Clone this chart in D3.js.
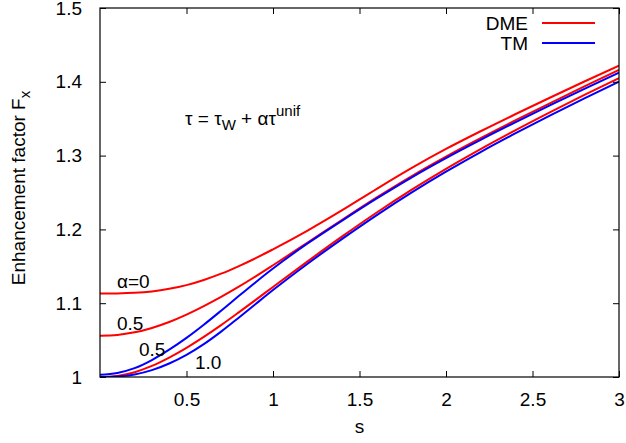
<!DOCTYPE html>
<html><head><meta charset="utf-8">
<script src="https://cdn.jsdelivr.net/npm/d3@7"></script>
<style>body{margin:0;background:#fff}svg{display:block}text{font-family:"Liberation Sans",Arial,Helvetica,sans-serif;fill:#000}</style>
</head><body><svg id="c" width="626" height="443"></svg>
<script>
const sValues = [0,0.1,0.2,0.3,0.4,0.5,0.6,0.7,0.8,0.9,1.0,1.2,1.4,1.6,1.8,2.0,2.2,2.4,2.6,2.8,3.0];
const dmeAlpha0  = [1.113,1.1132,1.114,1.116,1.1195,1.1245,1.1315,1.140,1.150,1.161,1.173,1.1984,1.226,1.255,1.283,1.309,1.333,1.356,1.3784,1.4004,1.422];
const dmeAlpha05 = [1.056,1.057,1.0605,1.0665,1.0745,1.0845,1.096,1.1085,1.122,1.1364,1.1514,1.1821,1.2131,1.2434,1.272,1.2986,1.3236,1.3476,1.3709,1.3937,1.416];
const tmAlpha05  = [1.003,1.0055,1.012,1.023,1.037,1.053,1.0708,1.0898,1.1093,1.1285,1.147,1.181,1.212,1.242,1.2703,1.2966,1.3213,1.345,1.368,1.3905,1.4125];
const dmeAlpha1  = [1.000,1.0015,1.0065,1.015,1.0263,1.0395,1.0543,1.0703,1.0872,1.1045,1.122,1.1567,1.1905,1.2229,1.2535,1.2821,1.3089,1.3343,1.3587,1.3823,1.4051];
const tmAlpha1   = [1.000,1.0008,1.0035,1.0093,1.0183,1.030,1.0445,1.0615,1.080,1.099,1.1178,1.1535,1.1872,1.2194,1.2498,1.2782,1.3048,1.330,1.3542,1.3776,1.4002];
const xTicks = [0.5,1,1.5,2,2.5,3];
const xTickLabels = ["0.5","1","1.5","2","2.5","3"];
const yTicks = [1,1.1,1.2,1.3,1.4,1.5];
const yTickLabels = ["1","1.1","1.2","1.3","1.4","1.5"];
const seriesNames = ["DME","TM"];
const seriesColors = ["#ff0000","#0000ff"];

const svg = d3.select("#c");
const L=100,R=619,T=8,B=377;
const x = d3.scaleLinear().domain([0,3]).range([L,R]);
const y = d3.scaleLinear().domain([1,1.5]).range([B,T]);
const fs = 19, fsSmall = 15;

const series = [
  {v:dmeAlpha0,c:0},{v:dmeAlpha05,c:0},{v:dmeAlpha1,c:0},
  {v:tmAlpha05,c:1},{v:tmAlpha1,c:1}
];
const line = d3.line().x(d=>x(d[0])).y(d=>y(d[1])).curve(d3.curveMonotoneX);
const g = svg.append("g");
g.append("clipPath").attr("id","clip").append("rect").attr("x",L).attr("y",T-2).attr("width",R-L).attr("height",B-T+2);
series.forEach(s=>{
  g.append("path").attr("clip-path","url(#clip)")
   .attr("d",line(sValues.map((sv,i)=>[sv,s.v[i]])))
   .attr("fill","none").attr("stroke",seriesColors[s.c]).attr("stroke-width",2);
});

const ax = svg.append("g");
const axB = d3.axisBottom(x).tickValues(xTicks).tickFormat((d,i)=>xTickLabels[i]).tickSizeInner(-6).tickSizeOuter(0).tickPadding(16);
const axT = d3.axisTop(x).tickValues(xTicks).tickFormat("").tickSizeInner(-6).tickSizeOuter(0);
const axL = d3.axisLeft(y).tickValues(yTicks).tickFormat((d,i)=>yTickLabels[i]).tickSizeInner(-6).tickSizeOuter(0).tickPadding(18);
const axR = d3.axisRight(y).tickValues(yTicks).tickFormat("").tickSizeInner(-6).tickSizeOuter(0);
[ [axB,`translate(0,${B})`],[axT,`translate(0,${T})`],[axL,`translate(${L},0)`],[axR,`translate(${R},0)`] ].forEach(([a,t])=>{
  const gg = ax.append("g").attr("transform",t).call(a);
  gg.select(".domain").remove();
  gg.selectAll(".tick line").attr("stroke","#000").attr("stroke-width",1);
  gg.selectAll("text").style("font-size",fs+"px").attr("font-family",null);
});
svg.append("rect").attr("x",L).attr("y",T).attr("width",R-L).attr("height",B-T).attr("fill","none").attr("stroke","#000").attr("stroke-width",1.2);

svg.append("text").attr("x",x(1.5)).attr("y",433).attr("text-anchor","middle").style("font-size",fs+"px").text("s");
const yl = svg.append("text").attr("transform",`translate(25,188) rotate(-90)`).attr("text-anchor","middle").style("font-size",fs+"px");
yl.append("tspan").text("Enhancement factor F");
yl.append("tspan").attr("dy",5).style("font-size",fsSmall+"px").text("x");

seriesNames.forEach((n,i)=>{
  const yy = 23 + i*20;
  svg.append("text").attr("x",528).attr("y",yy+7).attr("text-anchor","end").style("font-size",fs+"px").text(n);
  svg.append("line").attr("x1",542).attr("x2",595).attr("y1",yy).attr("y2",yy).attr("stroke",seriesColors[i]).attr("stroke-width",2);
});

const an = svg.append("text").attr("x",185).attr("y",125).style("font-size",fs+"px");
an.append("tspan").text("τ = τ");
an.append("tspan").attr("dy",5).style("font-size",fsSmall+"px").text("W");
an.append("tspan").attr("dy",-5).text(" + ατ");
an.append("tspan").attr("dy",-9).style("font-size",fsSmall+"px").text("unif");

const labels = [["α=0",117,288],["0.5",117,330],["0.5",139,356],["1.0",195,369]];
labels.forEach(l=>svg.append("text").attr("x",l[1]).attr("y",l[2]).style("font-size",fs+"px").text(l[0]));
</script></body></html>
